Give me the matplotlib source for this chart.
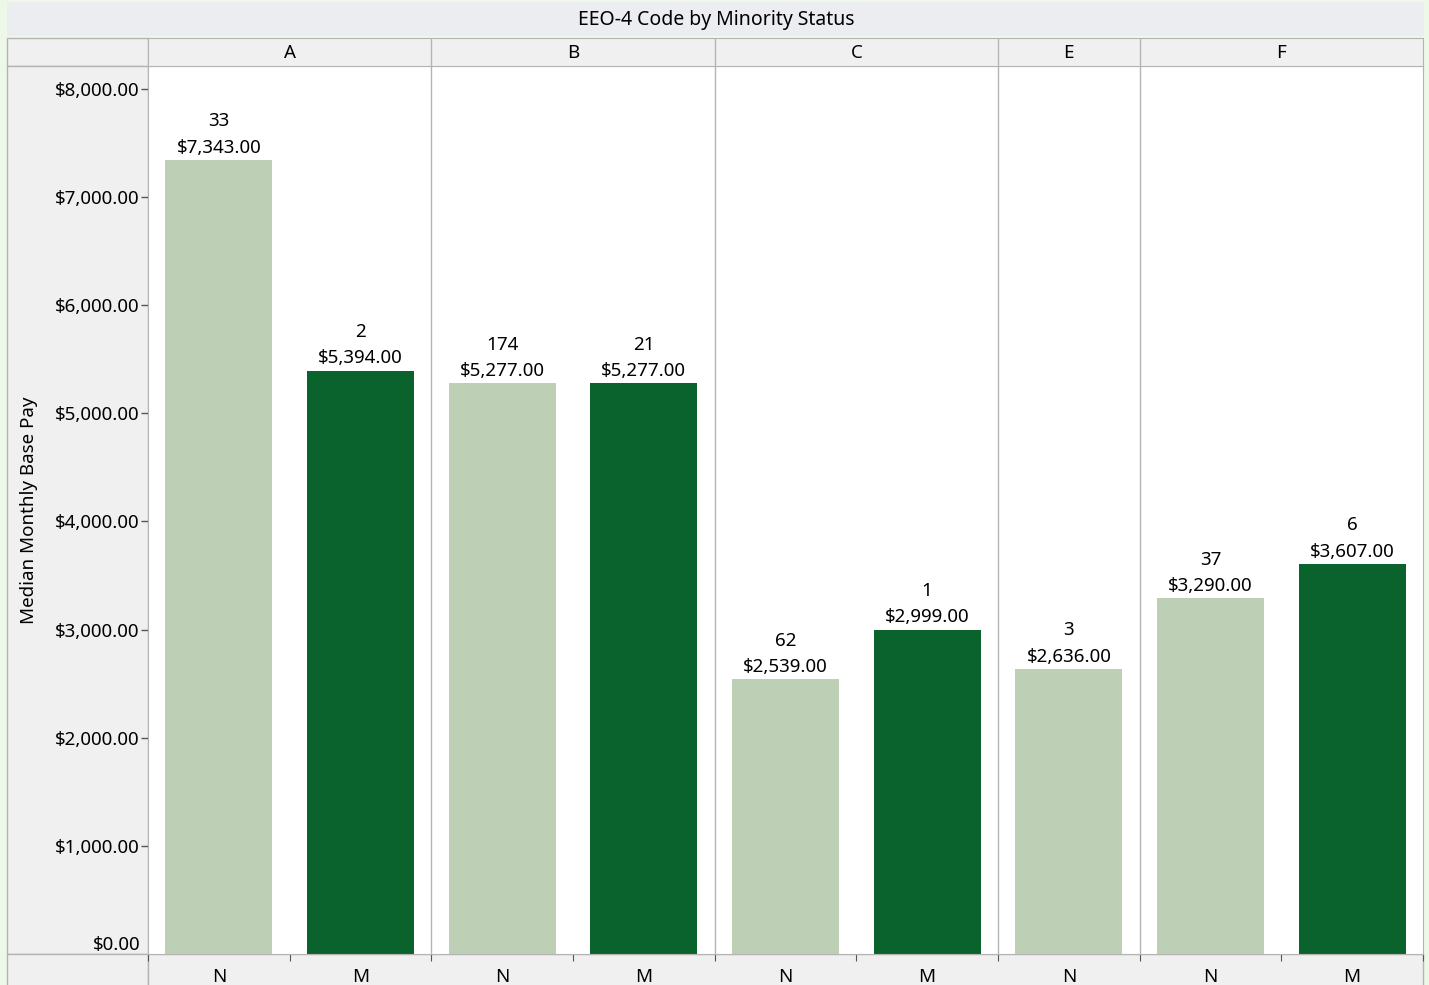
import numpy as np
import matplotlib
matplotlib.use('Agg')
import matplotlib.pyplot as plt
from matplotlib.patches import Rectangle
from matplotlib.ticker import FuncFormatter
import matplotlib.transforms as mtransforms

plt.rcParams['font.family'] = ['Noto Sans', 'DejaVu Sans']

# data
group = ['A', 'A', 'B', 'B', 'C', 'C', 'E', 'F', 'F']
status = ['N', 'M', 'N', 'M', 'N', 'M', 'N', 'N', 'M']
median_pay = [7343, 5394, 5277, 5277, 2539, 2999, 2636, 3290, 3607]
counts = [33, 2, 174, 21, 62, 1, 3, 37, 6]
groups = ['A', 'B', 'C', 'E', 'F']

colors = {'N': '#bdcfb5', 'M': '#0a632c'}
edge = '#b4b4b4'
cell = '#f0f0f0'
fs = 13.5

W, H = 1429, 985
fig = plt.figure(figsize=(W/100, H/100), dpi=100)
fig.patch.set_facecolor('#eef8e8')

def fx(px):
    return px/W
def fy(py):
    return 1 - py/H

def box(x0, y0, x1, y1, fc, ec=edge, lw=1, z=0):
    r = Rectangle((fx(x0), fy(y1)), fx(x1)-fx(x0), fy(y0)-fy(y1),
                  transform=fig.transFigure, facecolor=fc, edgecolor=ec,
                  linewidth=lw, zorder=z)
    fig.add_artist(r)

# title band
box(7, 2, 1424, 36, '#ecedf1', ec='none')
fig.text(fx(716), fy(20), 'EEO-4 Code by Minority Status', ha='center', va='center', fontsize=14)

# left cells (header corner, y axis area, bottom corner)
box(7, 38, 148, 66, cell)
box(7, 66, 148, 954, cell)
box(7, 954, 148, 990, cell)
box(148, 954, 1423, 990, cell)

x0_px, x1_px = 148, 1423
ax = fig.add_axes([fx(x0_px), fy(954), fx(x1_px)-fx(x0_px), fy(66)-fy(954)])
hax = fig.add_axes([fx(x0_px), fy(66), fx(x1_px)-fx(x0_px), fy(38)-fy(66)])

n = len(group)
pos = np.arange(n) + 0.5
bars = ax.bar(pos, median_pay, width=0.755, color=[colors[s] for s in status], zorder=2)

for p, v, c in zip(pos, median_pay, counts):
    ax.text(p, v + 30, '{}\n${:,.2f}'.format(c, v), ha='center', va='bottom',
            fontsize=fs, linespacing=1.6)

# panel boundaries
bounds = [0]
for i in range(1, n):
    if group[i] != group[i-1]:
        bounds.append(i)
bounds.append(n)

for b in bounds[1:-1]:
    ax.axvline(b, color=edge, lw=1, zorder=1)

ax.set_xlim(0, n)
ax.set_ylim(0, 8210)
ax.set_yticks(np.arange(1000, 8001, 1000))
ax.yaxis.set_major_formatter(FuncFormatter(lambda v, p: '${:,.2f}'.format(v)))
ax.tick_params(axis='y', length=5, width=1, color='#555555', pad=1, labelsize=fs)
# the zero label sits above the axis bottom
trans = mtransforms.blended_transform_factory(ax.transAxes, ax.transData)
ax.text(-0.006, 0, '${:,.2f}'.format(0), transform=trans, ha='right', va='bottom', fontsize=fs)
ax.set_ylabel('Median Monthly Base Pay', fontsize=fs)
ax.yaxis.set_label_coords(-0.086, 0.5)

# x ticks: marks at slot boundaries, labels at slot centres
ax.set_xticks(np.arange(0, n+1))
ax.set_xticklabels([])
ax.set_xticks(pos, minor=True)
ax.set_xticklabels(status, minor=True)
ax.tick_params(axis='x', which='major', length=5, color='#555555', direction='out')
ax.tick_params(axis='x', which='minor', length=0, pad=10, labelsize=fs)
for s in ax.spines.values():
    s.set_color(edge)

# header row with group names
hax.set_xlim(0, n)
hax.set_ylim(0, 1)
hax.set_facecolor(cell)
hax.set_xticks([])
hax.set_yticks([])
for s in hax.spines.values():
    s.set_color(edge)
for k, g in enumerate(groups):
    a, b = bounds[k], bounds[k+1]
    hax.text((a+b)/2, 0.45, g, ha='center', va='center', fontsize=fs)
    if k > 0:
        hax.axvline(a, color=edge, lw=1)

fig.savefig('out.png', dpi=100, facecolor=fig.get_facecolor())
